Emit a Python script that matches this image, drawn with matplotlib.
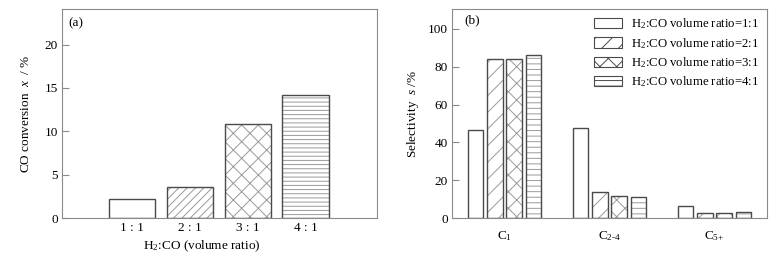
import matplotlib.pyplot as plt
import numpy as np

plt.rcParams['font.family'] = ['Liberation Serif', 'DejaVu Serif']
plt.rcParams['mathtext.fontset'] = 'custom'
plt.rcParams['mathtext.rm'] = 'Liberation Serif'
plt.rcParams['mathtext.it'] = 'Liberation Serif:italic'
plt.rcParams['hatch.linewidth'] = 0.7

# (a) CO conversion
ratios = ['1 : 1', '2 : 1', '3 : 1', '4 : 1']
conversion = [2.2, 3.6, 10.8, 14.2]

# (b) selectivity
products = ['C$_1$', 'C$_{\\text{2-4}}$', 'C$_{\\text{5+}}$']
sel_1 = [46.5, 47.5, 6.5]
sel_2 = [84.0, 13.5, 2.8]
sel_3 = [84.0, 11.8, 2.6]
sel_4 = [86.2, 11.3, 3.3]
legend_labels = ['H$_2$:CO volume ratio=1:1', 'H$_2$:CO volume ratio=2:1',
                 'H$_2$:CO volume ratio=3:1', 'H$_2$:CO volume ratio=4:1']

hatches_a = ['', '////', 'xx', '----']
hatches_b = ['', '//', 'xx', '---']
edge = '#4a4a4a'
hcol = '#9a9a9a'
spine = '#8a8a8a'
fs = 9.5

fig = plt.figure(figsize=(7.83, 2.58), dpi=100)
ax1 = fig.add_axes([0.0792, 0.155, 0.4023, 0.81])
ax2 = fig.add_axes([0.5773, 0.155, 0.4023, 0.81])

x = np.arange(len(ratios))
for i in range(len(ratios)):
    ax1.bar(x[i], conversion[i], 0.8, color='white', edgecolor=hcol, hatch=hatches_a[i], linewidth=0)
    ax1.bar(x[i], conversion[i], 0.8, color='none', edgecolor=edge, linewidth=1.0)
ax1.set_xlim(-1.22, 4.24)
ax1.set_ylim(0, 24.1)
ax1.set_yticks([0, 5, 10, 15, 20])
ax1.set_xticks(x)
ax1.set_xticklabels(ratios)
ax1.set_xlabel('H$_2$:CO (volume ratio)', fontsize=fs)
ax1.xaxis.set_label_coords(0.444, -0.1)
ax1.set_ylabel('CO conversion  $x$  / %', fontsize=fs, labelpad=9)
ax1.text(0.02, 0.96, '(a)', transform=ax1.transAxes, fontsize=fs, va='top')

groups = np.arange(len(products))
series = [sel_1, sel_2, sel_3, sel_4]
offsets = [-0.275, -0.092, 0.092, 0.275]
for s, off, h, lab in zip(series, offsets, hatches_b, legend_labels):
    ax2.bar(groups + off, s, 0.148, color='white', edgecolor=hcol, hatch=h, linewidth=0)
    ax2.bar(groups + off, s, 0.148, color='none', edgecolor=edge, linewidth=1.0)
    ax2.bar([0], [0], 0, color='white', edgecolor=edge, hatch=h, linewidth=0.8, label=lab)
ax2.set_xlim(-0.5, 2.5)
ax2.set_ylim(0, 110.5)
ax2.set_yticks([0, 20, 40, 60, 80, 100])
ax2.set_xticks(groups)
ax2.set_xticklabels(products)
ax2.set_ylabel('Selectivity  $s$ /%', fontsize=fs, labelpad=5)
ax2.text(0.04, 0.975, '(b)', transform=ax2.transAxes, fontsize=fs, va='top')
leg = ax2.legend(loc='upper right', frameon=False, fontsize=9.2, handlelength=2.2,
                 handleheight=0.85, labelspacing=0.35, handletextpad=0.7,
                 borderaxespad=0.2)

for ax in (ax1, ax2):
    for sp in ax.spines.values():
        sp.set_color(spine)
    ax.tick_params(axis='y', direction='in', length=5, color=spine, labelsize=fs, pad=3)
    ax.tick_params(axis='x', length=0, labelsize=fs)
ax1.tick_params(axis='x', pad=3)
ax2.tick_params(axis='x', pad=8)

fig.savefig('out.png', dpi=100)
